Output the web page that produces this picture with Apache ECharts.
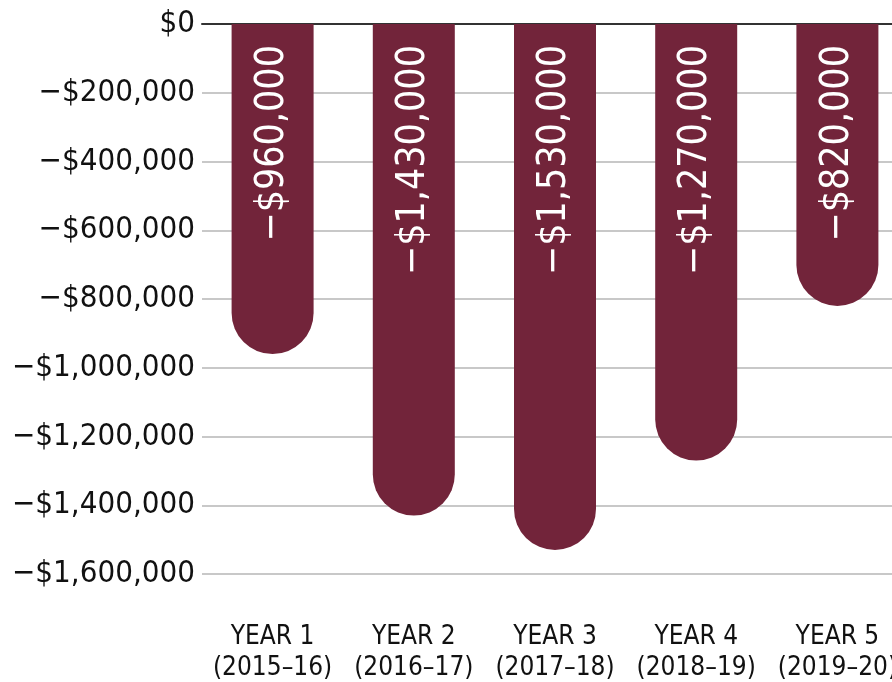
<!DOCTYPE html>
<html>
<head>
<meta charset="utf-8">
<style>
  html, body { margin: 0; padding: 0; background: #fff; }
  #chart { width: 892px; height: 682px; }
</style>
<script src="https://cdn.jsdelivr.net/npm/echarts@6/dist/echarts.min.js"></script>
</head>
<body>
<div id="chart"></div>
<script>
  const yearLabels = ['YEAR 1', 'YEAR 2', 'YEAR 3', 'YEAR 4', 'YEAR 5']
  const periodLabels = ['(2015–16)', '(2016–17)', '(2017–18)', '(2018–19)', '(2019–20)']
  const netValues = [-960000, -1430000, -1530000, -1270000, -820000]

  const categories = yearLabels.map((y, i) => y + '\n' + periodLabels[i])

  function money (v) {
    if (v === 0) return '$0'
    return (v < 0 ? '\u2212' : '') + '$' + Math.abs(v).toLocaleString('en-US')
  }

  const chart = echarts.init(document.getElementById('chart'))

  const option = {
    animation: false,
    grid: { left: 202, width: 706, top: 24, bottom: 108, outerBoundsMode: 'none' },
    xAxis: [
      {
        type: 'category',
        data: categories,
        position: 'bottom',
        axisLine: { show: false, onZero: false },
        axisTick: { show: false },
        axisLabel: {
          interval: 0,
          margin: 48,
          color: '#111',
          fontSize: 26,
          lineHeight: 31,
          fontFamily: '"Liberation Sans Narrow", "DejaVu Sans Condensed", sans-serif'
        }
      },
      {
        type: 'category',
        data: categories,
        position: 'top',
        axisLine: { show: true, onZero: false, lineStyle: { color: '#333', width: 2 } },
        axisTick: { show: false },
        axisLabel: { show: false }
      }
    ],
    yAxis: {
      type: 'value',
      min: -1600000,
      max: 0,
      interval: 200000,
      axisLine: { show: false },
      axisTick: { show: false },
      splitLine: { lineStyle: { color: '#c8c8c8', width: 2 } },
      axisLabel: {
        margin: 7,
        color: '#111',
        fontSize: 31,
        fontFamily: '"DejaVu Sans Condensed", "DejaVu Sans", sans-serif',
        formatter: money
      }
    },
    series: [
      {
        type: 'bar',
        data: netValues,
        barWidth: 82,
        itemStyle: { color: '#72243a', borderRadius: [0, 0, 41, 41] },
        label: {
          show: true,
          position: 'insideTop',
          distance: 21,
          rotate: 90,
          align: 'right',
          verticalAlign: 'middle',
          color: '#fff',
          fontSize: 39,
          fontFamily: '"DejaVu Sans Condensed", "DejaVu Sans", sans-serif',
          formatter: p => money(p.value)
        }
      }
    ]
  }

  chart.setOption(option)
</script>
</body>
</html>
